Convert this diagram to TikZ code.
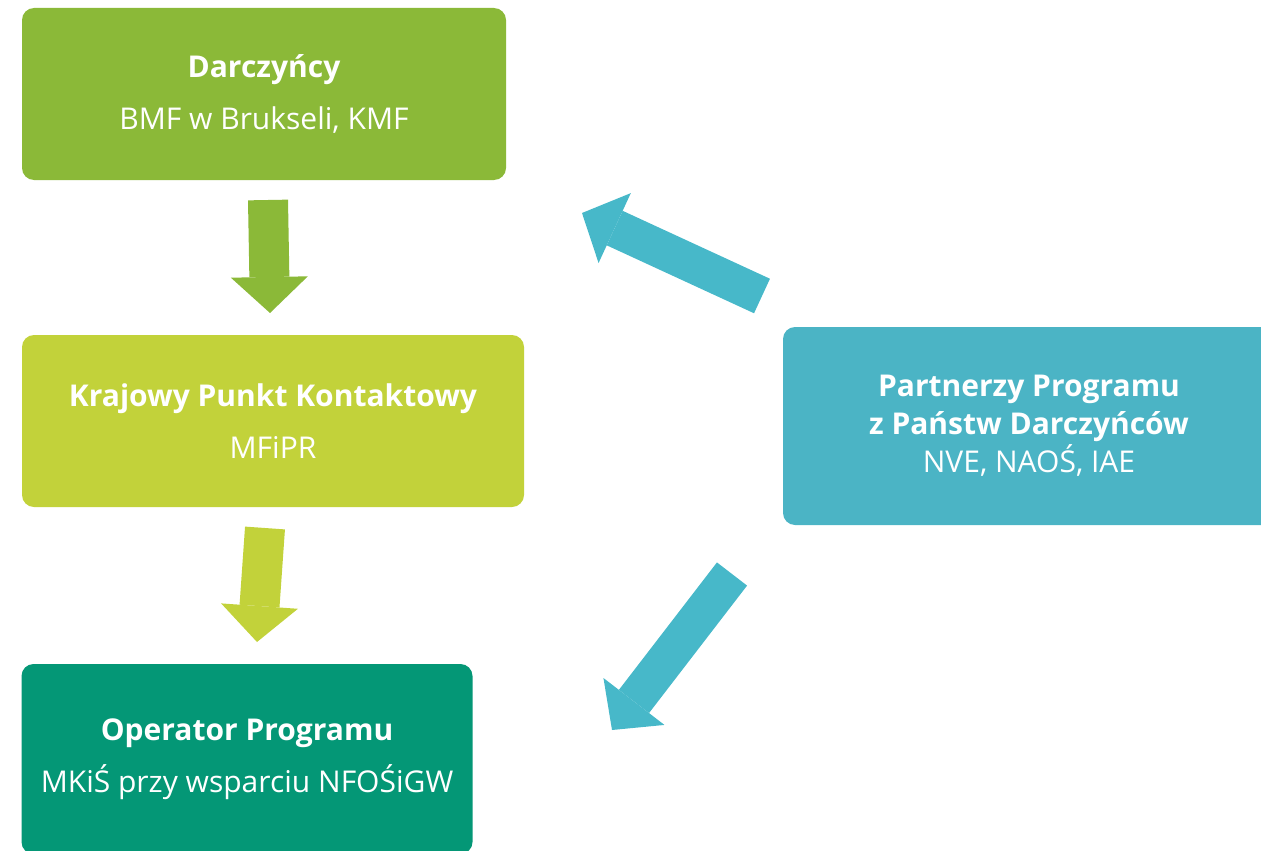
\documentclass[tikz,border=0pt]{standalone}
\usepackage{fontspec}
\setmainfont{Open Sans}
\usetikzlibrary{arrows.meta}

\definecolor{donorgreen}{RGB}{139,185,56}
\definecolor{limegreen}{RGB}{194,210,58}
\definecolor{operatorgreen}{RGB}{4,151,118}
\definecolor{partnerblue}{RGB}{75,180,197}
\definecolor{arrowblue}{RGB}{71,184,201}

\tikzset{
  box/.style={rounded corners=12pt, text=white, align=center, inner sep=0pt,
    font=\fontsize{30}{38}\selectfont},
  bigarrow/.style={line width=40pt, -{Triangle[length=36pt,width=77pt,line width=0pt]}}
}

\begin{document}
\begin{tikzpicture}[x=1pt,y=-1pt]
        \clip (0,0) rectangle (1261,851);
        \node [box, fill=donorgreen, minimum width=484pt, minimum height=172pt] (1) at (264,94)
          {\textbf{Darczyńcy}\\[14pt]BMF w Brukseli, KMF};
        \node [box, fill=limegreen, minimum width=502pt, minimum height=172pt] (2) at (273,421)
          {\textbf{Krajowy Punkt Kontaktowy}\\[14pt]MFiPR};
        \node [box, fill=operatorgreen, minimum width=451pt, minimum height=190pt] (3) at (247,759)
          {\textbf{Operator Programu}\\[14pt]MKiŚ przy wsparciu NFOŚiGW};
        \node [box, fill=partnerblue, minimum width=492pt, minimum height=198pt] (4) at (1029,426)
          {\textbf{Partnerzy Programu}\\\textbf{z Państw Darczyńców}\\NVE, NAOŚ, IAE};

        \coordinate (1a) at (268,200);
        \coordinate (1b) at (270,313);
        \coordinate (2a) at (265,528);
        \coordinate (2b) at (257,642);
        \coordinate (4a) at (762,296);
        \coordinate (4b) at (582,213);
        \coordinate (4c) at (732,574);
        \coordinate (4d) at (612,730);

        \draw [bigarrow, donorgreen] (1a) -- (1b);
        \draw [bigarrow, limegreen] (2a) -- (2b);
        \draw [bigarrow, arrowblue, line width=38pt] (4a) -- (4b);
        \draw [bigarrow, arrowblue, line width=38pt] (4c) -- (4d);
      \end{tikzpicture}
\end{document}
